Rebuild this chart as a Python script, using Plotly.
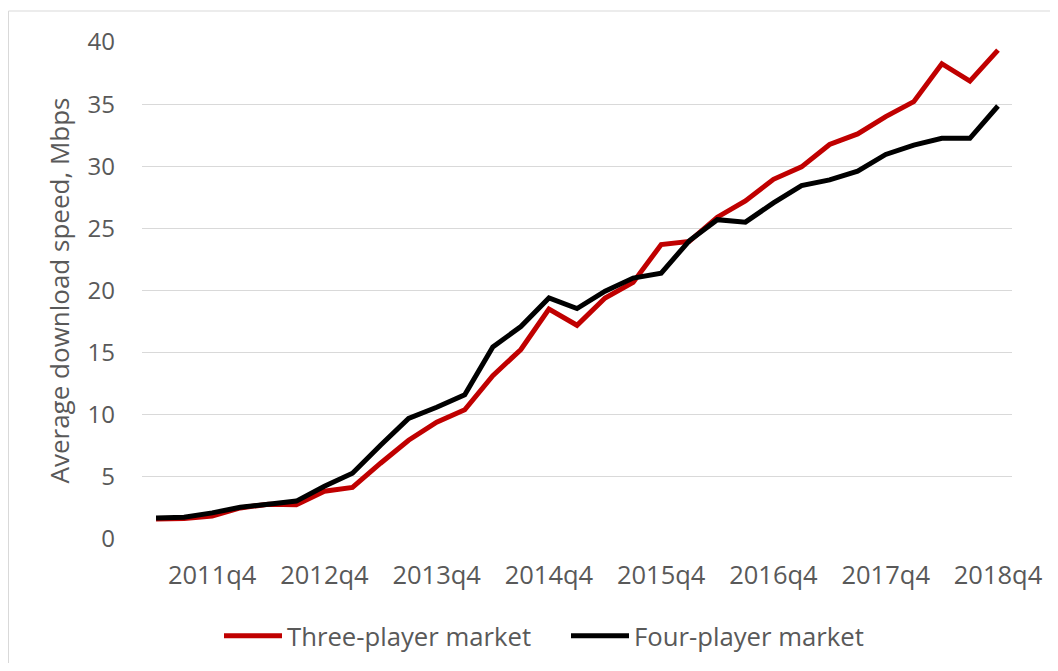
import plotly.graph_objects as go

quarters = []
for yr in range(2011, 2019):
    for q in range(1, 5):
        if yr == 2011 and q == 1:
            continue
        quarters.append(f"{yr}q{q}")

three_player = [1.6, 1.65, 1.85, 2.5, 2.8, 2.75, 3.85, 4.15, 6.1, 7.95, 9.4, 10.4,
                13.15, 15.25, 18.5, 17.2, 19.4, 20.65, 23.7, 23.95, 25.9, 27.2,
                28.95, 29.95, 31.75, 32.6, 34.0, 35.2, 38.25, 36.85, 39.35]
four_player = [1.7, 1.75, 2.1, 2.55, 2.8, 3.05, 4.25, 5.3, 7.55, 9.7, 10.6, 11.6,
               15.45, 17.1, 19.4, 18.55, 19.95, 21.0, 21.4, 24.0, 25.7, 25.5,
               27.05, 28.45, 28.9, 29.6, 30.95, 31.7, 32.25, 32.25, 34.85]

tick_vals = [q for q in quarters if q.endswith("q4")]
y_ticks = [0, 5, 10, 15, 20, 25, 30, 35, 40]

FONT = "Open Sans"
GREY = "#595959"

W, H = 1042, 655
L, T, PW, PH = 134, 34, 870, 497

fig = go.Figure()
fig.add_trace(go.Scatter(x=quarters, y=three_player, mode="lines",
                         name="Three-player market", legend="legend",
                         line=dict(color="#C00000", width=5)))
fig.add_trace(go.Scatter(x=quarters, y=four_player, mode="lines",
                         name="Four-player market", legend="legend2",
                         line=dict(color="#000000", width=5)))

leg_common = dict(orientation="h", xanchor="left", yanchor="middle",
                  y=(T + PH - 628) / PH, font=dict(size=25.7, color=GREY),
                  itemwidth=58, bgcolor="rgba(0,0,0,0)")

fig.update_layout(
    width=W, height=H,
    margin=dict(l=L, r=W - L - PW, t=T, b=H - T - PH, autoexpand=False),
    paper_bgcolor="white", plot_bgcolor="white",
    font=dict(family=FONT, color=GREY, size=26),
    showlegend=True,
    legend=dict(x=(211 - L) / PW, **leg_common),
    legend2=dict(x=(558 - L) / PW, **leg_common),
    xaxis=dict(type="category", categoryorder="array", categoryarray=quarters,
               range=[-0.5, len(quarters) - 0.5],
               tickvals=tick_vals, ticktext=tick_vals,
               showgrid=False, showline=False, zeroline=False, ticks="",
               tickangle=0, ticklabelstandoff=18,
               tickfont=dict(size=25.5, color=GREY)),
    yaxis=dict(range=[0, 40], tickvals=y_ticks, showgrid=True,
               gridcolor="#D9D9D9", gridwidth=1, zeroline=False, showline=False,
               ticks="", ticklabelstandoff=26,
               tickfont=dict(size=24, color=GREY),
               title=dict(text="Average download speed, Mbps",
                          font=dict(size=26, color=GREY), standoff=10)),
    shapes=[dict(type="rect", xref="paper", yref="paper",
                 x0=(0.5 - L) / PW, x1=1.3,
                 y0=-0.6, y1=(T + PH - 3) / PH,
                 line=dict(color="#D9D9D9", width=1), fillcolor="rgba(0,0,0,0)",
                 layer="below")],
)

fig.write_html("out.html")
